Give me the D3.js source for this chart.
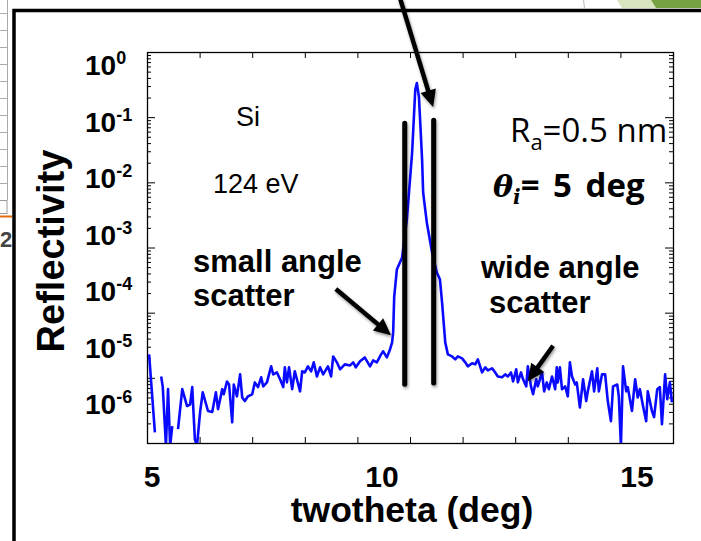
<!DOCTYPE html>
<html>
<head>
<meta charset="utf-8">
<script src="https://cdn.jsdelivr.net/npm/d3@7"></script>
<style>
  html, body { margin: 0; padding: 0; background: #fff; }
  svg { display: block; }
</style>
</head>
<body>
<svg id="chart" width="701" height="541"></svg>
<script>
// Scattering angle (deg) of each measured point
const twotheta = [
  5.04, 5.15, 5.20, 5.27, 5.30, 5.36, 5.40, 5.44, 5.48, 5.53,
  5.59, 5.67, 5.76, 5.82, 5.86, 5.91, 5.95, 6.01, 6.06, 6.16,
  6.24, 6.31, 6.35, 6.43, 6.46, 6.52, 6.56, 6.62, 6.65, 6.71,
  6.77, 6.81, 6.86, 6.92, 7.00, 7.05, 7.11, 7.17, 7.21, 7.28,
  7.36, 7.40, 7.47, 7.53, 7.59, 7.62, 7.66, 7.70, 7.76, 7.81,
  7.85, 7.91, 7.95, 8.00, 8.06, 8.12, 8.17, 8.23, 8.29, 8.35,
  8.44, 8.50, 8.54, 8.61, 8.67, 8.76, 8.86, 8.92, 8.97, 9.05,
  9.14, 9.24, 9.30, 9.37, 9.45, 9.49, 9.56, 9.62, 9.66, 9.68,
  9.70, 9.75, 9.85, 9.94, 10.04, 10.10, 10.13, 10.17, 10.23, 10.25,
  10.32, 10.42, 10.51, 10.57, 10.61, 10.67, 10.72, 10.80, 10.86, 10.91,
  10.99, 11.05, 11.10, 11.18, 11.24, 11.29, 11.37, 11.43, 11.48, 11.56,
  11.62, 11.67, 11.75, 11.81, 11.86, 11.92, 11.96, 12.02, 12.05, 12.11,
  12.15, 12.21, 12.24, 12.30, 12.34, 12.40, 12.43, 12.51, 12.55, 12.60,
  12.64, 12.70, 12.76, 12.79, 12.81, 12.85, 12.89, 12.95, 13.00, 13.04,
  13.08, 13.14, 13.17, 13.23, 13.29, 13.35, 13.38, 13.46, 13.50, 13.56,
  13.59, 13.65, 13.71, 13.76, 13.82, 13.86, 13.94, 13.97, 14.01, 14.05,
  14.11, 14.14, 14.22, 14.28, 14.33, 14.37, 14.43, 14.49, 14.52, 14.60,
  14.64, 14.70, 14.75, 14.79, 14.85, 14.89, 14.94, 14.98
];

// Measured reflectivity; null marks a zero count (gap in the log plot)
const reflectivity = [
  2.29e-5, 1.46e-6, null, 1.05e-5, 7.2e-6, 9e-7, 6.7e-6, 9e-7, 1.81e-6, null,
  1.63e-6, 6.7e-6, 3.7e-6, 3.9e-6, 7.2e-6, 1.14e-6, 9e-7, 3.0e-6, 6.0e-6, 3.1e-6,
  3.0e-6, 6.0e-6, 3.3e-6, 6.7e-6, 5.6e-6, 8.8e-6, 7.9e-6, 2.08e-6, 7.9e-6, 5.2e-6,
  1.13e-5, 5.0e-6, 4.4e-6, 5.2e-6, 5.6e-6, 8.5e-6, 7.2e-6, 1.02e-5, 7.4e-6, 8.5e-6,
  1.50e-5, 1.13e-5, 1.21e-5, 9.5e-6, 7.2e-6, 1.45e-5, 8.5e-6, 1.45e-5, 6.7e-6, 1.26e-5,
  9.5e-6, 6.2e-6, 1.26e-5, 1.21e-5, 1.50e-5, 1.26e-5, 1.73e-5, 1.05e-5, 1.45e-5, 1.13e-5,
  1.50e-5, 1.05e-5, 2.13e-5, 1.73e-5, 1.35e-5, 1.61e-5, 1.55e-5, 1.73e-5, 1.45e-5, 1.79e-5,
  2.06e-5, 1.50e-5, 1.85e-5, 1.73e-5, 2.29e-5, 2.55e-5, 2.06e-5, 2.73e-5, 3.50e-5, 4.98e-5,
  1.77e-4, 4.59e-4, 7.0e-4, 2.68e-3, 2.84e-2, 0.262, 0.335, 0.205, 2.22e-2, 6.93e-3,
  2.41e-3, 8.36e-4, 4.13e-4, 3.22e-4, 1.43e-4, 3.50e-5, 2.29e-5, 2.13e-5, 1.92e-5, 2.13e-5,
  1.99e-5, 1.73e-5, 1.50e-5, 1.67e-5, 1.61e-5, 1.92e-5, 1.21e-5, 1.45e-5, 1.30e-5, 1.40e-5,
  1.21e-5, 1.05e-5, 1.02e-5, 1.13e-5, 1.05e-5, 1.21e-5, 8.8e-6, 1.35e-5, 8.5e-6, 1.21e-5,
  9.5e-6, 7.4e-6, 1.50e-5, 7.4e-6, 5.6e-6, 9.5e-6, 7.4e-6, 1.21e-5, 6.2e-6, 8.5e-6,
  6.7e-6, 1.05e-5, 6.7e-6, 1.45e-5, 8.5e-6, 1.45e-5, 6.7e-6, 7.4e-6, 5.2e-6, 1.73e-5,
  1.05e-5, 7.9e-6, 8.5e-6, 3.5e-6, 9.5e-6, 4.4e-6, 6.2e-6, 1.26e-5, 6.2e-6, 1.40e-5,
  6.2e-6, 1.13e-5, 1.13e-5, 4.4e-6, 2.16e-6, 7.4e-6, 7.9e-6, 5.2e-6, 9e-7, 1.50e-5,
  6.2e-6, 7.2e-6, 3.1e-6, 9.5e-6, 5.0e-6, 6.7e-6, 3.7e-6, 2.16e-6, 6.2e-6, 3.1e-6,
  2.5e-6, 6.7e-6, 7.2e-6, 1.94e-6, 1.13e-5, 4.7e-6, 8.5e-6, 4.2e-6
];

// Axis ticks and labels
const xTicks = [5, 6, 7, 8, 9, 10, 11, 12, 13, 14, 15];
const xTickLabels = [5, 10, 15];
const yTickLabels = [1e0, 1e-1, 1e-2, 1e-3, 1e-4, 1e-5, 1e-6];

// Detector window edges (deg) and annotation arrows, in data units
const windowEdges = [
  { x: 9.90, top: 0.081, bottom: 8.0e-6 },
  { x: 10.45, top: 0.090, bottom: 8.3e-6 }
];
const arrows = [
  { x1: 9.81, y1: 6.7, x2: 10.44, y2: 0.143 },
  { x1: 8.59, y1: 2.3e-4, x2: 9.64, y2: 4.5e-5 },
  { x1: 12.72, y1: 3.1e-5, x2: 12.24, y2: 8.9e-6 }
];

const svg = d3.select("#chart");
const plot = { left: 147, right: 673, top: 52, bottom: 443 };

const x = d3.scaleLinear().domain([5, 15]).range([plot.left, plot.right]);
const y = d3.scaleLog().domain([1e-6, 1]).range([plot.bottom, plot.top]);

// Label placement scales (the labels sit a little apart from their ticks)
const xLab = d3.scaleLinear().domain([5, 10, 15]).range([152, 382, 637]);
const yLab = d3.scaleLog().domain([1e-6, 1]).range([404, 65]);

const defs = svg.append("defs");
defs.append("clipPath").attr("id", "plotClip")
  .append("rect")
  .attr("x", plot.left).attr("y", plot.top)
  .attr("width", plot.right - plot.left).attr("height", plot.bottom - plot.top);
const shadow = defs.append("filter").attr("id", "softShadow")
  .attr("x", "-50%").attr("y", "-10%").attr("width", "200%").attr("height", "130%");
shadow.append("feDropShadow")
  .attr("dx", 1).attr("dy", 2).attr("stdDeviation", 1.6)
  .attr("flood-color", "#000").attr("flood-opacity", 0.4);

// ---- slide fragments around the figure ----
const frag = svg.append("g");
frag.append("line").attr("x1", 7.5).attr("x2", 7.5).attr("y1", 0).attr("y2", 200)
  .attr("stroke", "#aaa").attr("stroke-width", 1);
d3.range(13, 200, 17).forEach(yy => {
  frag.append("line").attr("x1", 0).attr("x2", 8).attr("y1", yy + 0.5).attr("y2", yy + 0.5)
    .attr("stroke", "#aaa").attr("stroke-width", 1);
});
frag.append("rect").attr("x", -1).attr("y", 200.5).attr("width", 8).attr("height", 13)
  .attr("fill", "none").attr("stroke", "#999");
frag.append("line").attr("x1", 0).attr("x2", 12).attr("y1", 216.5).attr("y2", 216.5)
  .attr("stroke", "#e46c0a").attr("stroke-width", 2);
frag.append("text").attr("x", 0).attr("y", 247)
  .attr("font-family", "Liberation Sans, Arial, sans-serif").attr("font-weight", "bold")
  .attr("font-size", 22).attr("fill", "#444").text("2");
frag.append("line").attr("x1", 583.5).attr("x2", 584.5).attr("y1", 0).attr("y2", 8)
  .attr("stroke", "#bbb");
frag.append("polygon").attr("points", "617,0 651,0 656,8 622,8").attr("fill", "#d7e4bd");
frag.append("polygon").attr("points", "651,0 701,0 701,8 656,8").attr("fill", "#77a244");

// Figure frame
svg.append("path").attr("d", "M14,541 V10.5 H701")
  .attr("fill", "none").attr("stroke", "#000").attr("stroke-width", 3.5);

// ---- axes (ticks point inward on all four sides) ----
const majorY = d3.range(-6, 1).map(e => Math.pow(10, e));
const minorY = [];
d3.range(-6, 0).forEach(e => d3.range(2, 10).forEach(m => minorY.push(m * Math.pow(10, e))));

function cleanAxis(g) {
  g.select(".domain").remove();
  g.selectAll(".tick line").attr("stroke", "#000").attr("stroke-width", 1);
}
svg.append("g").attr("transform", `translate(${plot.left},0)`)
  .call(d3.axisRight(y).tickValues(majorY).tickSize(8).tickFormat("")).call(cleanAxis);
svg.append("g").attr("transform", `translate(${plot.left},0)`)
  .call(d3.axisRight(y).tickValues(minorY).tickSize(4).tickFormat("")).call(cleanAxis);
svg.append("g").attr("transform", `translate(${plot.right},0)`)
  .call(d3.axisLeft(y).tickValues(majorY).tickSize(8).tickFormat("")).call(cleanAxis);
svg.append("g").attr("transform", `translate(${plot.right},0)`)
  .call(d3.axisLeft(y).tickValues(minorY).tickSize(4).tickFormat("")).call(cleanAxis);
svg.append("g").attr("transform", `translate(0,${plot.bottom})`)
  .call(d3.axisTop(x).tickValues(xTicks).tickSize(6).tickFormat("")).call(cleanAxis);
svg.append("g").attr("transform", `translate(0,${plot.top})`)
  .call(d3.axisBottom(x).tickValues(xTicks).tickSize(6).tickFormat("")).call(cleanAxis);

svg.append("rect")
  .attr("x", plot.left + 0.5).attr("y", plot.top + 0.5)
  .attr("width", plot.right - plot.left).attr("height", plot.bottom - plot.top)
  .attr("fill", "none").attr("stroke", "#000").attr("stroke-width", 1.3);

// Tick labels
const boldFont = "Liberation Sans, Arial, Helvetica, sans-serif";
svg.append("g").selectAll("text").data(yTickLabels).join("text")
  .attr("x", 85).attr("y", d => yLab(d) + 10)
  .attr("font-family", boldFont).attr("font-weight", "bold").attr("font-size", 28)
  .each(function (d) {
    const t = d3.select(this);
    const e = Math.round(Math.log10(d));
    t.append("tspan").text("10");
    t.append("tspan").attr("dy", -11).attr("font-size", 18)
      .text(e === 0 ? "0" : "-" + Math.abs(e));
  });

svg.append("g").selectAll("text").data(xTickLabels).join("text")
  .attr("x", d => xLab(d)).attr("y", 487).attr("text-anchor", "middle")
  .attr("font-family", boldFont).attr("font-weight", "bold").attr("font-size", 30)
  .text(d => d);

// Axis titles
svg.append("text")
  .attr("transform", "translate(64,251) rotate(-90)")
  .attr("text-anchor", "middle")
  .attr("font-family", boldFont).attr("font-weight", "bold").attr("font-size", 38)
  .text("Reflectivity");
svg.append("text")
  .attr("x", 412).attr("y", 522).attr("text-anchor", "middle")
  .attr("font-family", boldFont).attr("font-weight", "bold").attr("font-size", 35.5)
  .text("twotheta (deg)");

// ---- measured curve ----
const points = twotheta.map((t, i) => ({ t, r: reflectivity[i] }));
const line = d3.line()
  .defined(d => d.r !== null)
  .x(d => x(d.t))
  .y(d => y(d.r));
svg.append("path")
  .datum(points)
  .attr("clip-path", "url(#plotClip)")
  .attr("fill", "none")
  .attr("stroke", "#0a0aff")
  .attr("stroke-width", 2.6)
  .attr("stroke-linejoin", "round")
  .attr("d", line);

// ---- detector window edges ----
svg.append("g").attr("filter", "url(#softShadow)")
  .selectAll("line").data(windowEdges).join("line")
  .attr("x1", d => x(d.x)).attr("x2", d => x(d.x))
  .attr("y1", d => y(d.top)).attr("y2", d => y(d.bottom))
  .attr("stroke", "#000").attr("stroke-width", 5).attr("stroke-linecap", "round");

// ---- annotation arrows ----
const arrowG = svg.append("g").attr("filter", "url(#softShadow)");
arrows.forEach(a => {
  const x1 = x(a.x1), y1 = y(a.y1), x2 = x(a.x2), y2 = y(a.y2);
  const dx = x2 - x1, dy = y2 - y1, len = Math.hypot(dx, dy);
  const ux = dx / len, uy = dy / len;
  const headLen = 17, headHalf = 8;
  const bx = x2 - ux * headLen, by = y2 - uy * headLen;
  arrowG.append("line")
    .attr("x1", x1).attr("y1", y1).attr("x2", bx + ux * 2).attr("y2", by + uy * 2)
    .attr("stroke", "#000").attr("stroke-width", 4.5);
  arrowG.append("polygon")
    .attr("points", [
      [x2, y2],
      [bx - uy * headHalf, by + ux * headHalf],
      [bx + uy * headHalf, by - ux * headHalf]
    ].map(p => p.join(",")).join(" "))
    .attr("fill", "#000");
});

// ---- text annotations ----
const reg = "Liberation Sans, Arial, Helvetica, sans-serif";
svg.append("text").attr("x", 236).attr("y", 126)
  .attr("font-family", reg).attr("font-size", 27).text("Si");
svg.append("text").attr("x", 213).attr("y", 193)
  .attr("font-family", reg).attr("font-size", 27).text("124 eV");

const ra = svg.append("text").attr("x", 510).attr("y", 142)
  .attr("font-family", "Open Sans, DejaVu Sans, sans-serif").attr("font-size", 33);
ra.append("tspan").text("R");
ra.append("tspan").attr("font-size", 22).attr("dy", 8).text("a");
ra.append("tspan").attr("dy", -8).text("=0.5 nm");

const th = svg.append("text").attr("x", 493).attr("y", 197)
  .attr("font-family", "Open Sans, DejaVu Sans, sans-serif").attr("font-size", 33)
  .attr("font-weight", "bold");
th.append("tspan").attr("font-family", "DejaVu Serif, Liberation Serif, serif")
  .attr("font-style", "italic").attr("font-size", 30).text("θ");
th.append("tspan").attr("font-family", "DejaVu Serif, Liberation Serif, serif")
  .attr("font-style", "italic").attr("font-size", 20).attr("dy", 7).text("i");
th.append("tspan").attr("dy", -7).attr("word-spacing", 5).text("= 5 deg");

const lab = (tx, ty, s) => svg.append("text").attr("x", tx).attr("y", ty)
  .attr("font-family", boldFont).attr("font-weight", "bold").attr("font-size", 31).text(s);
lab(193, 272, "small angle");
lab(193, 306, "scatter");
lab(481, 278, "wide angle");
lab(489, 313, "scatter");
</script>
</body>
</html>
